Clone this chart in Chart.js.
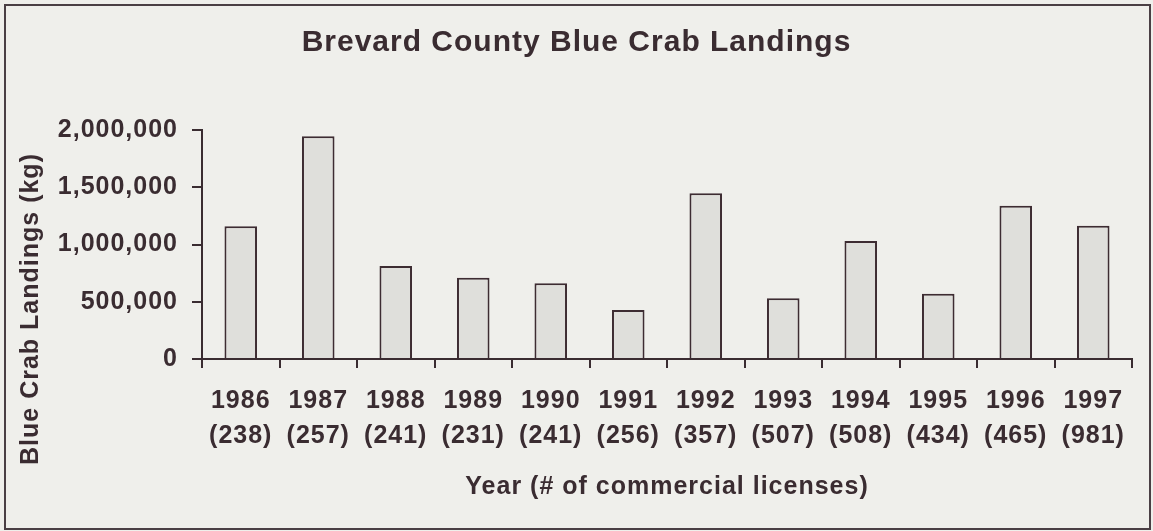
<!DOCTYPE html>
<html>
<head>
<meta charset="utf-8">
<script src="https://cdn.jsdelivr.net/npm/chart.js@4/dist/chart.umd.min.js"></script>
<style>
  html, body { margin: 0; padding: 0; background: #efefeb; }
  canvas { display: block; }
</style>
</head>
<body>
<canvas id="crabChart" width="1153" height="531"></canvas>
<script>
// landings per year, with number of commercial licenses in brackets
const years = ['1986', '1987', '1988', '1989', '1990', '1991', '1992', '1993', '1994', '1995', '1996', '1997'];
const licenses = [238, 257, 241, 231, 241, 256, 357, 507, 508, 434, 465, 981];
const landings = [1160000, 1945000, 812000, 710000, 661000, 428000, 1447000, 530000, 1031000, 570000, 1339000, 1164000];
const yTicks = [0, 500000, 1000000, 1500000, 2000000];

const ink = '#3a2c31';
const paper = '#efefeb';
const fontFamily = '"Liberation Sans", Arial, sans-serif';

const labels = years.map((y, i) => [y, '(' + licenses[i] + ')']);

// background, outer frame, letter spacing and the vertical axis caption
const framePlugin = {
	id: 'frame',
	beforeDraw(chart) {
		const c = chart.ctx;
		c.save();
		c.fillStyle = paper;
		c.fillRect(0, 0, chart.width, chart.height);
		c.strokeStyle = '#4a3f44';
		c.lineWidth = 2;
		c.strokeRect(5, 5, chart.width - 8, chart.height - 7);
		c.restore();
		c.letterSpacing = '1px';
	},
	afterDraw(chart) {
		const c = chart.ctx;
		c.save();
		c.translate(31, 309);
		c.rotate(-Math.PI / 2);
		c.font = 'bold 25px ' + fontFamily;
		c.fillStyle = ink;
		c.textAlign = 'center';
		c.textBaseline = 'middle';
		c.fillText('Blue Crab Landings (kg)', 0, 0);
		c.restore();
	}
};

const ctx = document.getElementById('crabChart').getContext('2d');
let crabChart = new Chart(ctx, {
	type: 'bar',
	data: {
		labels: labels,
		datasets: [
			{
				label: 'Blue Crab Landings (kg)',
				data: landings,
				backgroundColor: '#dfdfdb',
				borderColor: '#3d2c32',
				borderWidth: 2,
				borderSkipped: 'start',
				categoryPercentage: 1,
				barPercentage: 0.42
			}
		]
	},
	options: {
		responsive: false,
		animation: false,
		devicePixelRatio: 1,
		layout: { padding: { left: 21, right: 21, top: 0, bottom: 0 } },
		plugins: {
			legend: { display: false },
			tooltip: { enabled: false },
			title: {
				display: true,
				text: 'Brevard County Blue Crab Landings',
				color: ink,
				font: { family: fontFamily, size: 30, weight: 'bold' },
				padding: { top: 25, bottom: 69 }
			}
		},
		scales: {
			x: {
				afterFit: scale => { scale.height = 172; },
				border: { display: true, color: ink, width: 2 },
				grid: {
					drawOnChartArea: false,
					drawTicks: true,
					tickLength: 9,
					color: ink,
					lineWidth: 2,
					offset: true
				},
				ticks: {
					color: ink,
					padding: 15,
					maxRotation: 0,
					autoSkip: false,
					font: { family: fontFamily, size: 25, weight: 'bold', lineHeight: 1.41 }
				},
				title: {
					display: true,
					text: 'Year (# of commercial licenses)',
					color: ink,
					font: { family: fontFamily, size: 25, weight: 'bold' },
					padding: { top: 0, bottom: 29 }
				}
			},
			y: {
				min: 0,
				max: 2000000,
				afterFit: scale => { scale.width = 181; },
				afterBuildTicks: scale => { scale.ticks = yTicks.map(v => ({ value: v })); },
				border: { display: true, color: ink, width: 2 },
				grid: {
					drawOnChartArea: false,
					drawTicks: true,
					tickLength: 10,
					color: ink,
					lineWidth: 2
				},
				ticks: {
					color: ink,
					padding: 14,
					font: { family: fontFamily, size: 25, weight: 'bold' },
					callback: v => v.toLocaleString('en-US')
				}
			}
		}
	},
	plugins: [framePlugin]
});
</script>
</body>
</html>
